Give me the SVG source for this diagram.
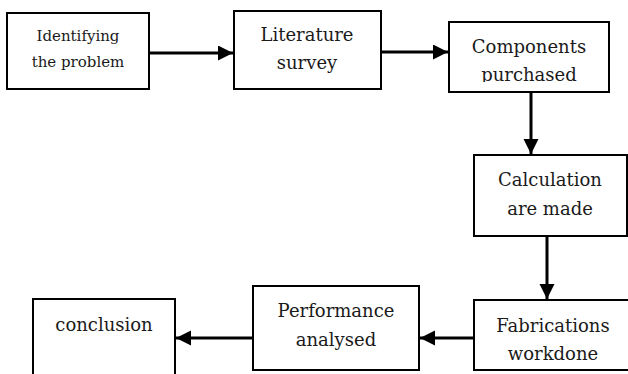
<svg xmlns="http://www.w3.org/2000/svg" width="628" height="374" viewBox="0 0 628 374">
<style>
.box{fill:#fff;stroke:#000;stroke-width:2}
.t{font-family:"DejaVu Serif","Liberation Serif",serif;font-size:18px;fill:#1a1a1a;text-anchor:middle}
.s{font-size:15px}
.c{stroke:#000;stroke-width:3;fill:none;marker-end:url(#ah)}
</style>
<defs>
<marker id="ah" markerUnits="userSpaceOnUse" markerWidth="16" markerHeight="16" refX="15" refY="7.5" orient="auto">
<path d="M0,0 L15,7.5 L0,15 z" fill="#000"/>
</marker>
<clipPath id="cp3"><rect x="449" y="22" width="160" height="60"/></clipPath>
</defs>
<rect width="628" height="374" fill="#fff"/>
<g id="n1"><rect class="box" x="7" y="13" width="142" height="76"/><text class="t s" x="78" y="41">Identifying</text><text class="t s" x="78" y="67">the problem</text></g>
<g id="n2"><rect class="box" x="234" y="11" width="147" height="78"/><text class="t" x="307" y="41">Literature</text><text class="t" x="307" y="69">survey</text></g>
<g id="n3"><rect class="box" x="449" y="22" width="160" height="70"/><g clip-path="url(#cp3)"><text class="t" x="529" y="53">Components</text><text class="t" x="529" y="81">purchased</text></g></g>
<g id="n4"><rect class="box" x="474" y="155" width="153" height="81"/><text class="t" x="550" y="186">Calculation</text><text class="t" x="550" y="215">are made</text></g>
<g id="n5"><rect class="box" x="474" y="300" width="160" height="70"/><text class="t" x="553" y="332">Fabrications</text><text class="t" x="553" y="360">workdone</text></g>
<g id="n6"><rect class="box" x="253" y="286" width="166" height="84"/><text class="t" x="336" y="317">Performance</text><text class="t" x="336" y="346">analysed</text></g>
<g id="n7"><rect class="box" x="33" y="299" width="142" height="90"/><text class="t" x="104" y="331">conclusion</text></g>
<g id="connectors">
<line class="c" x1="149" y1="53" x2="233" y2="53"/>
<line class="c" x1="381" y1="52" x2="448" y2="52"/>
<line class="c" x1="531" y1="92" x2="531" y2="154"/>
<line class="c" x1="547" y1="236" x2="547" y2="299"/>
<line class="c" x1="474" y1="338" x2="420" y2="338"/>
<line class="c" x1="253" y1="338" x2="176" y2="338"/>
</g>
</svg>
